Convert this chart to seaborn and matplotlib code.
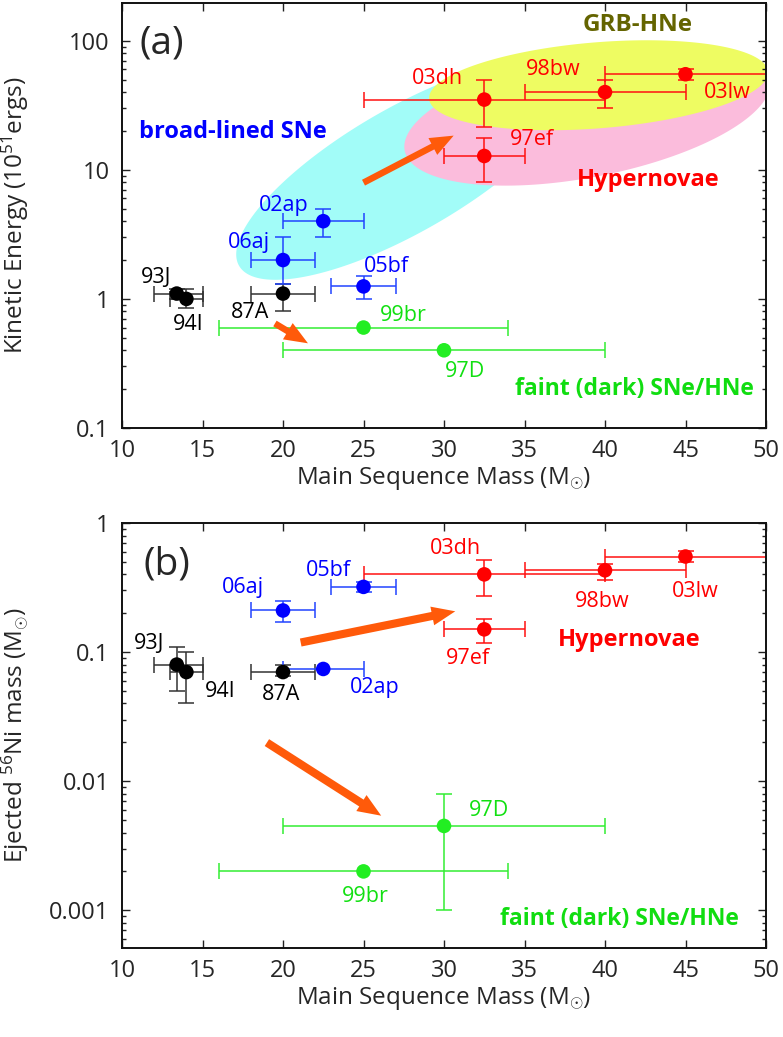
import numpy as np
import pandas as pd
import matplotlib
matplotlib.use("Agg")
import matplotlib.pyplot as plt
import seaborn as sns

# ---------------- data ----------------
names = ['93J', '94I', '87A', '06aj', '02ap', '05bf', '99br', '97D', '97ef', '03dh', '98bw', '03lw']
groups = ['normal', 'normal', 'normal', 'broad', 'broad', 'broad', 'faint', 'faint',
          'hyper', 'hyper', 'hyper', 'hyper']
mass = [13.4, 14.0, 20.0, 20.0, 22.5, 25.0, 25.0, 30.0, 32.5, 32.5, 40.0, 45.0]
mass_lo = [12.0, 13.0, 18.0, 18.0, 20.0, 23.0, 16.0, 20.0, 30.0, 25.0, 35.0, 40.0]
mass_hi = [15.0, 15.0, 22.0, 22.0, 25.0, 27.0, 34.0, 40.0, 35.0, 40.0, 45.0, 55.0]

energy = [1.1, 1.0, 1.1, 2.0, 4.0, 1.25, 0.6, 0.4, 12.8, 35.0, 40.0, 55.0]
energy_lo = [1.0, 0.85, 0.8, 1.3, 3.0, 1.0, np.nan, np.nan, 8.0, 21.5, 30.0, 50.0]
energy_hi = [1.2, 1.2, 1.3, 3.0, 5.0, 1.5, np.nan, np.nan, 17.7, 50.0, 50.0, 60.0]

nickel = [0.08, 0.07, 0.07, 0.21, 0.074, 0.32, 0.002, 0.0045, 0.15, 0.40, 0.43, 0.55]
nickel_lo = [0.05, 0.04, 0.065, 0.17, np.nan, 0.29, np.nan, 0.001, 0.118, 0.27, 0.36, 0.50]
nickel_hi = [0.11, 0.10, 0.08, 0.25, np.nan, 0.35, np.nan, 0.008, 0.18, 0.52, 0.48, 0.61]

df = pd.DataFrame(dict(name=names, group=groups, mass=mass, mass_lo=mass_lo, mass_hi=mass_hi,
                       energy=energy, energy_lo=energy_lo, energy_hi=energy_hi,
                       nickel=nickel, nickel_lo=nickel_lo, nickel_hi=nickel_hi))

# ---------------- styles ----------------
marker_col = {'normal': '#000000', 'broad': '#0000ff', 'faint': '#22ee22', 'hyper': '#ff0000'}
err_col = {'normal': '#333333', 'broad': '#2244ff', 'faint': '#33ee33', 'hyper': '#ff1111'}
text_col = {'normal': '#000000', 'broad': '#0000ff', 'faint': '#11e011', 'hyper': '#ff0000'}

# label positions (data coords) for each panel
lab_a = {'93J': (12.1, 1.46), '94I': (14.1, 0.63), '87A': (17.95, 0.78), '06aj': (17.9, 2.73),
         '02ap': (20.05, 5.28), '05bf': (26.45, 1.78), '99br': (27.5, 0.74), '97D': (31.3, 0.274),
         '97ef': (35.45, 17.1), '03dh': (29.6, 50.8), '98bw': (36.8, 59.6), '03lw': (47.6, 39.6)}
lab_b = {'93J': (11.7, 0.117), '94I': (16.1, 0.0493), '87A': (19.85, 0.0471), '06aj': (17.5, 0.318),
         '02ap': (25.7, 0.0534), '05bf': (22.8, 0.43), '99br': (25.1, 0.00128), '97D': (32.8, 0.00595),
         '97ef': (31.5, 0.0887), '03dh': (30.7, 0.631), '98bw': (39.85, 0.245), '03lw': (45.6, 0.293)}

arrows_a = [((25.0, 7.95), (30.6, 18.4), 0.36), ((19.5, 0.645), (21.55, 0.453), 0.36)]
arrows_b = [((21.1, 0.1186), (30.7, 0.207), 0.45), ((19.0, 0.0199), (26.1, 0.0054), 0.45)]
arrow_col = '#ff5a0a'

# ellipses: center (data), semi-axes (px), angle (deg), colour
ellipses = [((27.6, 10.0), 192, 62, 30, '#a2fcf8'),
            ((38.9, 26.5), 186, 62, 11, '#fbbcdc'),
            ((39.6, 45.2), 170, 43, 4.6, '#eefc62')]

sns.set_theme(style='ticks')
FONT = ['Open Sans', 'DejaVu Sans']
plt.rcParams['font.family'] = FONT
plt.rcParams['mathtext.fontset'] = 'custom'
plt.rcParams['mathtext.rm'] = 'Open Sans'
plt.rcParams['mathtext.it'] = 'Open Sans:italic'

W, H = 783, 1037
fig = plt.figure(figsize=(W / 100, H / 100), dpi=100)
ax1 = fig.add_axes([122 / W, 1 - 428 / H, 644 / W, 425 / H])
ax2 = fig.add_axes([122 / W, 1 - 948 / H, 644 / W, 425 / H])

ax1.set_yscale('log')
ax2.set_yscale('log')
ax1.set_xlim(10, 50)
ax2.set_xlim(10, 50)
ax1.set_ylim(0.1, 196)
ax2.set_ylim(0.00051, 1)

XLAB = 'Main Sequence Mass (M$_{\\odot}$)'
for ax in (ax1, ax2):
    ax.set_xticks([10, 15, 20, 25, 30, 35, 40, 45, 50])
    ax.tick_params(which='both', direction='in', top=True, right=True, width=1.0, color='#222222')
    ax.tick_params(which='major', length=5.5, labelsize=17, pad=9)
    ax.tick_params(axis='x', which='major', pad=8)
    ax.tick_params(which='minor', length=3)
    ax.tick_params(axis='x', which='minor', bottom=False, top=False)
    for s in ax.spines.values():
        s.set_linewidth(1.4)
        s.set_color('#111111')

ax1.set_yticks([0.1, 1, 10, 100])
ax1.set_yticklabels(['0.1', '1', '10', '100'])
ax2.set_yticks([0.001, 0.01, 0.1, 1])
ax2.set_yticklabels(['0.001', '0.01', '0.1', '1'])

# ellipses in panel (a) (display-space ellipse mapped back to data)
t = np.linspace(0, 2 * np.pi, 300)
for (cx, cy), a, b, ang, col in ellipses:
    c = ax1.transData.transform((cx, cy))
    th = np.deg2rad(ang)
    px = c[0] + a * np.cos(t) * np.cos(th) - b * np.sin(t) * np.sin(th)
    py = c[1] + a * np.cos(t) * np.sin(th) + b * np.sin(t) * np.cos(th)
    pts = ax1.transData.inverted().transform(np.column_stack([px, py]))
    ax1.fill(pts[:, 0], pts[:, 1], color=col, lw=0, zorder=0.5)


def draw_panel(ax, ycol, labels):
    for _, r in df.iterrows():
        xe = [[r['mass'] - r['mass_lo']], [r['mass_hi'] - r['mass']]]
        ye = None
        if not np.isnan(r[ycol + '_lo']):
            ye = [[r[ycol] - r[ycol + '_lo']], [r[ycol + '_hi'] - r[ycol]]]
        ax.errorbar([r['mass']], [r[ycol]], xerr=xe, yerr=ye, fmt='none',
                    ecolor=err_col[r['group']], elinewidth=1.1, capsize=5.5, capthick=1.1, zorder=2)
    sns.scatterplot(data=df, x='mass', y=ycol, hue='group', palette=marker_col, s=110,
                    edgecolor='none', legend=False, ax=ax, zorder=3, clip_on=True)
    for _, r in df.iterrows():
        lx, ly = labels[r['name']]
        ax.text(lx, ly, r['name'], color=text_col[r['group']], fontsize=15.5,
                ha='center', va='center', zorder=4)


draw_panel(ax1, 'energy', lab_a)
draw_panel(ax2, 'nickel', lab_b)
for ax in (ax1, ax2):
    ax.set_xlabel(XLAB, fontsize=17.5, labelpad=1.5)
ax1.set_ylabel('Kinetic Energy (10$^{51}$ergs)', fontsize=17.5)
ax2.set_ylabel('Ejected $^{56}$Ni mass (M$_{\\odot}$)', fontsize=17.5)
ax1.yaxis.set_label_coords(-0.142, 0.5)
ax2.yaxis.set_label_coords(-0.142, 0.5)


def draw_arrows(ax, arrows):
    for (x0, y0), (x1, y1), tw in arrows:
        ax.annotate('', xy=(x1, y1), xytext=(x0, y0), zorder=2.5,
                    arrowprops=dict(arrowstyle=f'simple,head_length=1.3,head_width=1.05,tail_width={tw}',
                                    color=arrow_col, lw=0, shrinkA=0, shrinkB=0, mutation_scale=13))


draw_arrows(ax1, arrows_a)
draw_arrows(ax2, arrows_b)

# annotations
BF = 17
ax1.text(12.5, 95, '(a)', fontsize=28, ha='center', va='center')
ax2.text(12.8, 0.479, '(b)', fontsize=28, ha='center', va='center')
ax1.text(16.9, 19.7, 'broad-lined SNe', color='#0000ff', fontsize=BF, fontweight='bold', ha='center', va='center')
ax1.text(42.0, 133, 'GRB-HNe', color='#646400', fontsize=BF + 0.5, fontweight='bold', ha='center', va='center')
ax1.text(42.7, 8.39, 'Hypernovae', color='#ff0000', fontsize=BF, fontweight='bold', ha='center', va='center')
ax1.text(41.8, 0.202, 'faint (dark) SNe/HNe', color='#11dd11', fontsize=16.5, fontweight='bold', ha='center', va='center')
ax2.text(41.5, 0.1234, 'Hypernovae', color='#ff0000', fontsize=BF, fontweight='bold', ha='center', va='center')
ax2.text(40.9, 0.000851, 'faint (dark) SNe/HNe', color='#11dd11', fontsize=16.5, fontweight='bold', ha='center', va='center')

fig.savefig('out.png', dpi=100)
